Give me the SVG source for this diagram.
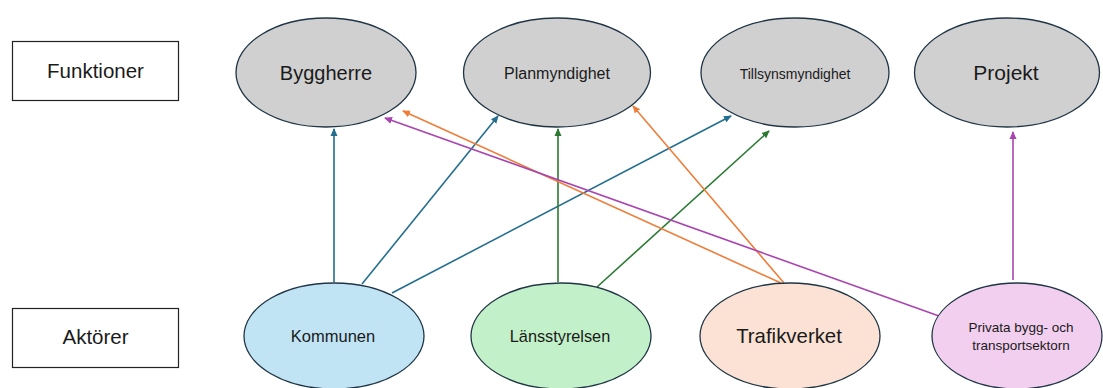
<svg xmlns="http://www.w3.org/2000/svg" width="1103" height="388" viewBox="0 0 1103 388">
<style>
.lbl{fill:#fff;stroke:#222;stroke-width:1.2}
.el{stroke:#1f3546;stroke-width:1.3}
text{font-family:"Liberation Sans",Arial,sans-serif;fill:#1a1a1a;text-anchor:middle}
.c{fill:none;stroke-width:1.6}
.blue{stroke:#246f8f}.green{stroke:#2a7a33}.orange{stroke:#ef7d3a}.purple{stroke:#a944b0}
</style>
<defs>
<marker id="mb" viewBox="0 0 8 8" refX="7" refY="4" markerWidth="8" markerHeight="8" markerUnits="userSpaceOnUse" orient="auto"><path d="M0,0.5 L8,4 L0,7.5 z" fill="#246f8f"/></marker>
<marker id="mg" viewBox="0 0 8 8" refX="7" refY="4" markerWidth="8" markerHeight="8" markerUnits="userSpaceOnUse" orient="auto"><path d="M0,0.5 L8,4 L0,7.5 z" fill="#2a7a33"/></marker>
<marker id="mo" viewBox="0 0 8 8" refX="7" refY="4" markerWidth="8" markerHeight="8" markerUnits="userSpaceOnUse" orient="auto"><path d="M0,0.5 L8,4 L0,7.5 z" fill="#ef7d3a"/></marker>
<marker id="mp" viewBox="0 0 8 8" refX="7" refY="4" markerWidth="8" markerHeight="8" markerUnits="userSpaceOnUse" orient="auto"><path d="M0,0.5 L8,4 L0,7.5 z" fill="#a944b0"/></marker>
</defs>
<rect width="1103" height="388" fill="#fff"/>
<g id="connectors">
<line class="c blue" x1="334" y1="282" x2="334" y2="129" marker-end="url(#mb)"/>
<line class="c blue" x1="362" y1="284" x2="498" y2="116" marker-end="url(#mb)"/>
<line class="c blue" x1="392" y1="293" x2="731" y2="116" marker-end="url(#mb)"/>
<line class="c green" x1="558" y1="282" x2="558" y2="129" marker-end="url(#mg)"/>
<line class="c green" x1="597" y1="287" x2="769" y2="131" marker-end="url(#mg)"/>
<line class="c orange" x1="781" y1="283" x2="403" y2="111" marker-end="url(#mo)"/>
<line class="c orange" x1="784" y1="283" x2="633" y2="106" marker-end="url(#mo)"/>
<line class="c purple" x1="939" y1="316" x2="385" y2="118" marker-end="url(#mp)"/>
<line class="c purple" x1="1013" y1="280" x2="1013" y2="132" marker-end="url(#mp)"/>
</g>
<g id="funktioner"><rect class="lbl" x="12.5" y="41.5" width="166" height="59"/><text x="95.5" y="78" font-size="20.5">Funktioner</text></g>
<g id="aktorer"><rect class="lbl" x="12.5" y="308.5" width="166" height="59"/><text x="95.5" y="344" font-size="20.5">Aktörer</text></g>
<g id="byggherre"><ellipse class="el" cx="326" cy="72.5" rx="90" ry="54.5" fill="#d0d0d0" stroke="#222"/><text x="326" y="80" font-size="20">Byggherre</text></g>
<g id="planmyndighet"><ellipse class="el" cx="557" cy="72.5" rx="93.5" ry="54.5" fill="#d0d0d0"/><text x="557" y="78.5" font-size="16">Planmyndighet</text></g>
<g id="tillsynsmyndighet"><ellipse class="el" cx="795" cy="72.5" rx="94" ry="54.5" fill="#d0d0d0"/><text x="795" y="78.5" font-size="14">Tillsynsmyndighet</text></g>
<g id="projekt"><ellipse class="el" cx="1007" cy="72.5" rx="92.5" ry="54.5" fill="#d0d0d0"/><text x="1006" y="80" font-size="21">Projekt</text></g>
<g id="kommunen"><ellipse class="el" cx="334" cy="336" rx="90" ry="53" fill="#c1e4f5"/><text x="333" y="342" font-size="16.5">Kommunen</text></g>
<g id="lansstyrelsen"><ellipse class="el" cx="561" cy="336" rx="90" ry="53" fill="#c2f0c8"/><text x="560" y="342" font-size="16.3">Länsstyrelsen</text></g>
<g id="trafikverket"><ellipse class="el" cx="790" cy="336" rx="90" ry="53" fill="#fbe2d5"/><text x="789" y="343" font-size="20.4">Trafikverket</text></g>
<g id="privata"><ellipse class="el" cx="1017" cy="336" rx="85" ry="53" fill="#f2cfee"/><text x="1021" y="332" font-size="13.5">Privata bygg- och</text><text x="1021" y="350" font-size="13.5">transportsektorn</text></g>
</svg>
